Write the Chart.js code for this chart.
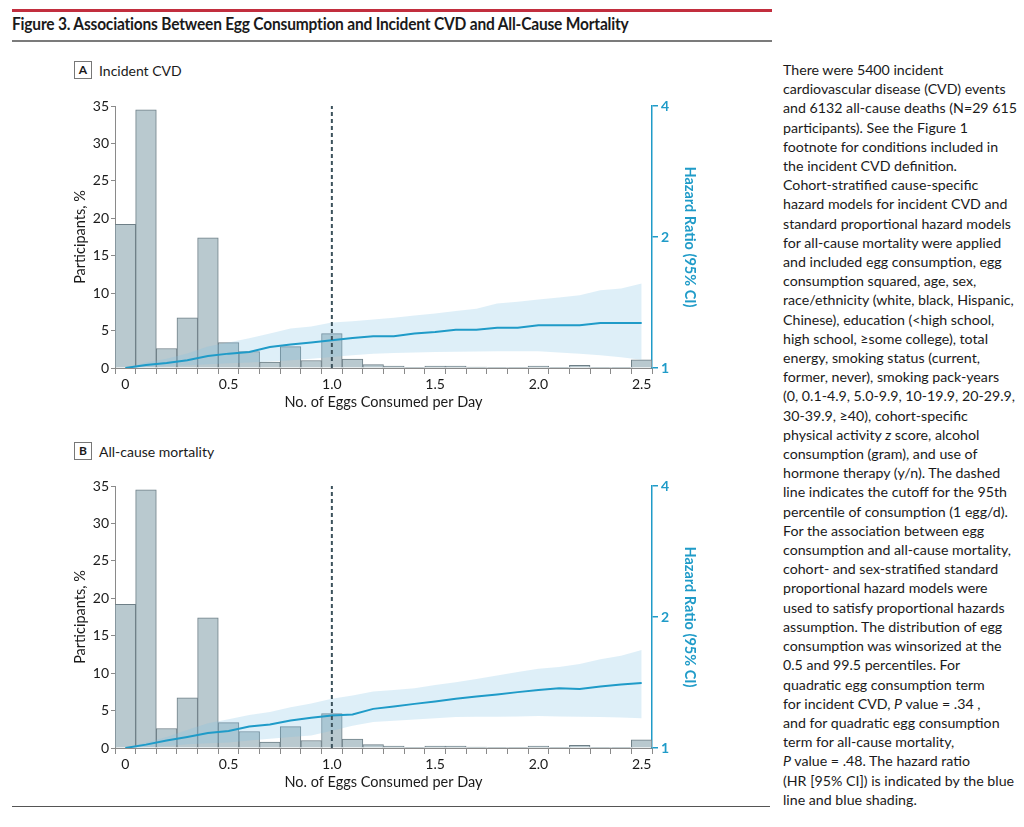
<!DOCTYPE html>
<html>
<head>
<meta charset="utf-8">
<script src="https://cdn.jsdelivr.net/npm/chart.js@4.4.1/dist/chart.umd.min.js"></script>
<style>
  body { margin: 0; background: #fff; font-family: Lato, "Open Sans", sans-serif; color: #1a1a1a; }
  .page { position: relative; width: 1024px; height: 827px; overflow: hidden; }
  .rule-red { position: absolute; left: 12px; top: 9px; width: 760px; height: 3px; background: #c22e3e; }
  .rule-gray { position: absolute; left: 12px; top: 40px; width: 760px; height: 2px; background: #7b7b7b; }
  .rule-bottom { position: absolute; left: 12px; top: 806px; width: 758px; height: 1px; background: #555; }
  .fig-title { position: absolute; left: 12px; top: 14px; font-size: 16.5px; font-weight: 700; white-space: nowrap;
    transform-origin: left top; transform: scaleX(0.94); letter-spacing: -0.2px; }
  .panel-label { position: absolute; left: 74px; font-size: 14px; }
  .panel-label .box { display: inline-block; width: 16px; height: 16px; border: 1px solid #777; text-align: center;
    font-weight: 700; font-size: 12px; line-height: 16px; margin-right: 7px; vertical-align: middle; }
  .panel-label span.txt { vertical-align: middle; }
  .chart-box { position: absolute; left: 72px; width: 626px; height: 321px; }
  .caption { position: absolute; left: 783px; top: 60px; width: 240px; font-size: 14.2px; line-height: 19.2px; white-space: nowrap; }
</style>
</head>
<body>
<div class="page">
  <div class="rule-red"></div>
  <div class="fig-title">Figure 3. Associations Between Egg Consumption and Incident CVD and All-Cause Mortality</div>
  <div class="rule-gray"></div>

  <div class="panel-label" style="top:60px"><span class="box">A</span><span class="txt">Incident CVD</span></div>
  <div class="chart-box" style="top:90px"><canvas id="chartA" width="626" height="321"></canvas></div>

  <div class="panel-label" style="top:441px"><span class="box">B</span><span class="txt">All-cause mortality</span></div>
  <div class="chart-box" style="top:470px"><canvas id="chartB" width="626" height="321"></canvas></div>

  <div class="rule-bottom"></div>

  <div class="caption">
    There were 5400 incident<br>
    cardiovascular disease (CVD) events<br>
    and 6132 all-cause deaths (N=29 615<br>
    participants). See the Figure 1<br>
    footnote for conditions included in<br>
    the incident CVD definition.<br>
    Cohort-stratified cause-specific<br>
    hazard models for incident CVD and<br>
    standard proportional hazard models<br>
    for all-cause mortality were applied<br>
    and included egg consumption, egg<br>
    consumption squared, age, sex,<br>
    race/ethnicity (white, black, Hispanic,<br>
    Chinese), education (&lt;high school,<br>
    high school, ≥some college), total<br>
    energy, smoking status (current,<br>
    former, never), smoking pack-years<br>
    (0, 0.1-4.9, 5.0-9.9, 10-19.9, 20-29.9,<br>
    30-39.9, ≥40), cohort-specific<br>
    physical activity <i>z</i> score, alcohol<br>
    consumption (gram), and use of<br>
    hormone therapy (y/n). The dashed<br>
    line indicates the cutoff for the 95th<br>
    percentile of consumption (1 egg/d).<br>
    For the association between egg<br>
    consumption and all-cause mortality,<br>
    cohort- and sex-stratified standard<br>
    proportional hazard models were<br>
    used to satisfy proportional hazards<br>
    assumption. The distribution of egg<br>
    consumption was winsorized at the<br>
    0.5 and 99.5 percentiles. For<br>
    quadratic egg consumption term<br>
    for incident CVD, <i>P</i> value = .34 ,<br>
    and for quadratic egg consumption<br>
    term for all-cause mortality,<br>
    <i>P</i> value = .48. The hazard ratio<br>
    (HR [95% CI]) is indicated by the blue<br>
    line and blue shading.
  </div>
</div>

<script>
// === Data ===
const eggBins = ['0', '0.1', '0.2', '0.3', '0.4', '0.5', '0.6', '0.7', '0.8', '0.9',
                 '1.0', '1.1', '1.2', '1.3', '1.4', '1.5', '1.6', '1.7', '1.8', '1.9',
                 '2.0', '2.1', '2.2', '2.3', '2.4', '2.5'];
const xTickLabels = ['0', '0.5', '1.0', '1.5', '2.0', '2.5'];
const participantsPct = [19.2, 34.5, 2.6, 6.7, 17.4, 3.4, 2.2, 0.8, 2.85, 1.0,
                         4.6, 1.2, 0.45, 0.25, 0.1, 0.25, 0.25, 0.12, 0.05, 0.05,
                         0.25, 0.05, 0.35, 0.05, 0.05, 1.1];
const participantTicks = [0, 5, 10, 15, 20, 25, 30, 35];
const hrTicks = [1, 2, 4];

// Panel A: incident CVD
const hrCvd   = [1.0, 1.016, 1.027, 1.042, 1.066, 1.079, 1.088, 1.117, 1.132, 1.144,
                 1.158, 1.172, 1.183, 1.183, 1.2, 1.21, 1.225, 1.225, 1.238, 1.238,
                 1.254, 1.254, 1.254, 1.269, 1.269, 1.269];
const hrCvdLo = [1.0, 1.005, 1.01, 1.015, 1.02, 1.025, 1.03, 1.035, 1.042, 1.05,
                 1.06, 1.07, 1.079, 1.083, 1.086, 1.088, 1.09, 1.091, 1.092, 1.092,
                 1.092, 1.086, 1.079, 1.07, 1.058, 1.045];
const hrCvdHi = [1.0, 1.03, 1.05, 1.08, 1.12, 1.145, 1.17, 1.2, 1.232, 1.245,
                 1.272, 1.28, 1.292, 1.305, 1.32, 1.335, 1.352, 1.369, 1.406, 1.42,
                 1.436, 1.452, 1.469, 1.508, 1.522, 1.563];

// Panel B: all-cause mortality
const hrMort   = [1.0, 1.018, 1.041, 1.06, 1.082, 1.094, 1.12, 1.133, 1.157, 1.173,
                  1.188, 1.194, 1.23, 1.245, 1.263, 1.279, 1.297, 1.313, 1.327, 1.344,
                  1.36, 1.372, 1.367, 1.384, 1.399, 1.411];
const hrMortLo = [1.0, 1.005, 1.01, 1.02, 1.025, 1.03, 1.04, 1.05, 1.06, 1.069,
                  1.095, 1.125, 1.147, 1.155, 1.163, 1.17, 1.178, 1.18, 1.18, 1.182,
                  1.184, 1.182, 1.18, 1.178, 1.175, 1.171];
const hrMortHi = [1.0, 1.03, 1.06, 1.1, 1.14, 1.165, 1.19, 1.21, 1.24, 1.265,
                  1.297, 1.32, 1.348, 1.36, 1.372, 1.395, 1.416, 1.44, 1.467, 1.495,
                  1.52, 1.535, 1.56, 1.6, 1.63, 1.68];

const cutoffIndex = 10; // 1 egg/d, 95th percentile

// === Styles ===
const FONT = 'Lato, "Open Sans", sans-serif';
const CYAN = '#1f9bc8';
const AXIS_GRAY = '#8a8a8a';

// dashed cutoff line
const cutoffLine = {
    id: 'cutoffLine',
    afterDatasetsDraw(chart) {
        const x = chart.scales.x.getPixelForValue(cutoffIndex);
        const area = chart.chartArea;
        const ctx = chart.ctx;
        ctx.save();
        ctx.strokeStyle = '#3c525c';
        ctx.lineWidth = 2;
        ctx.setLineDash([4, 3]);
        ctx.beginPath();
        ctx.moveTo(x, area.bottom);
        ctx.lineTo(x, area.top);
        ctx.stroke();
        ctx.restore();
    }
};

function buildPanel(canvasId, hr, hrLo, hrHi) {
    const ctx = document.getElementById(canvasId).getContext('2d');
    return new Chart(ctx, {
        data: {
            labels: eggBins,
            datasets: [
                {
                    type: 'line',
                    label: 'HR',
                    data: hr,
                    yAxisID: 'y1',
                    borderColor: CYAN,
                    borderWidth: 2,
                    pointRadius: 0,
                    tension: 0,
                    fill: false,
                    order: 1
                },
                {
                    type: 'line',
                    label: 'CI upper',
                    data: hrHi,
                    yAxisID: 'y1',
                    borderWidth: 0,
                    borderColor: 'rgba(0,0,0,0)',
                    backgroundColor: 'rgba(127,195,227,0.26)',
                    pointRadius: 0,
                    fill: '+1',
                    order: 2
                },
                {
                    type: 'line',
                    label: 'CI lower',
                    data: hrLo,
                    yAxisID: 'y1',
                    borderWidth: 0,
                    borderColor: 'rgba(0,0,0,0)',
                    pointRadius: 0,
                    fill: false,
                    order: 2
                },
                {
                    type: 'bar',
                    label: 'Participants',
                    data: participantsPct,
                    yAxisID: 'y',
                    backgroundColor: '#b9c9cf',
                    borderColor: '#6e7f87',
                    borderWidth: 1,
                    categoryPercentage: 1,
                    barPercentage: 1,
                    order: 3
                }
            ]
        },
        options: {
            responsive: false,
            animation: false,
            layout: { padding: { top: 16, left: 0, right: 0, bottom: 0 } },
            plugins: {
                legend: { display: false },
                tooltip: { enabled: false }
            },
            scales: {
                x: {
                    type: 'category',
                    offset: true,
                    grid: { offset: true, drawOnChartArea: false, drawTicks: true, tickLength: 6, color: AXIS_GRAY },
                    border: { display: true, color: AXIS_GRAY, width: 1 },
                    ticks: {
                        autoSkip: false,
                        maxRotation: 0,
                        padding: 2,
                        color: '#1a1a1a',
                        font: { family: FONT, size: 14 },
                        callback: (val, i) => (i % 5 === 0 ? xTickLabels[i / 5] : '')
                    },
                    title: {
                        display: true,
                        text: 'No. of Eggs Consumed per Day',
                        color: '#1a1a1a',
                        font: { family: FONT, size: 14.5 },
                        padding: 0
                    },
                    afterFit: s => { s.height = 43; }
                },
                y: {
                    position: 'left',
                    min: 0,
                    max: 35,
                    afterBuildTicks: s => { s.ticks = participantTicks.map(v => ({ value: v })); },
                    grid: { drawOnChartArea: false, tickLength: 4, color: AXIS_GRAY },
                    border: { display: true, color: AXIS_GRAY, width: 1 },
                    ticks: { padding: 2, color: '#1a1a1a', font: { family: FONT, size: 14 } },
                    title: {
                        display: true,
                        text: 'Participants, %',
                        color: '#1a1a1a',
                        font: { family: FONT, size: 14.5 },
                        padding: 0
                    },
                    afterFit: s => { s.width = 43; }
                },
                y1: {
                    type: 'logarithmic',
                    position: 'right',
                    min: 1,
                    max: 4,
                    afterBuildTicks: s => { s.ticks = hrTicks.map(v => ({ value: v })); },
                    grid: { drawOnChartArea: false, tickLength: 6, color: CYAN, lineWidth: 1.5 },
                    border: { display: true, color: CYAN, width: 1.5 },
                    ticks: {
                        padding: 3,
                        color: CYAN,
                        font: { family: FONT, size: 14, weight: 'bold' },
                        callback: v => String(v)
                    },
                    title: {
                        display: true,
                        text: 'Hazard Ratio (95% CI)',
                        color: CYAN,
                        font: { family: FONT, size: 14.5, weight: 'bold' },
                        padding: 0
                    },
                    afterFit: s => { s.width = 46; }
                }
            }
        },
        plugins: [cutoffLine]
    });
}

buildPanel('chartA', hrCvd, hrCvdLo, hrCvdHi);
buildPanel('chartB', hrMort, hrMortLo, hrMortHi);
</script>
</body>
</html>
